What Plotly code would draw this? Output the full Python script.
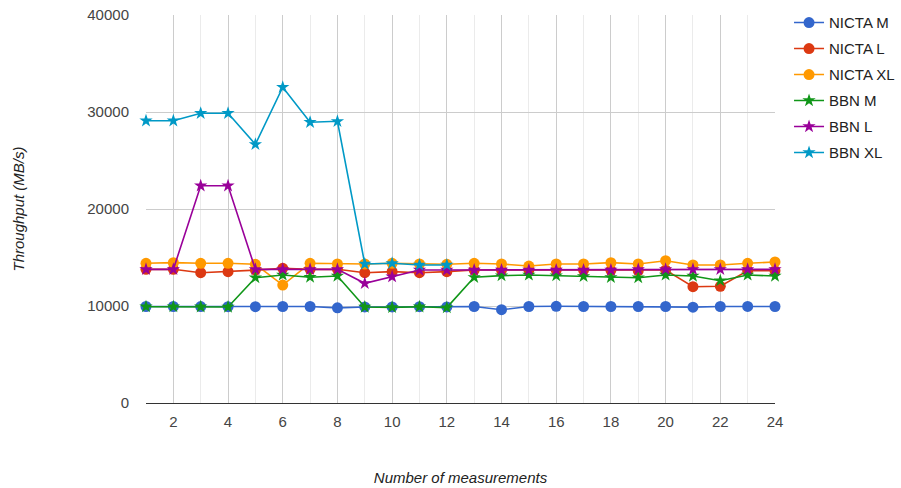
import plotly.graph_objects as go

# Measurement index
measurements = list(range(1, 25))

# Throughput per run (MB/s)
nicta_m = [9950, 9950, 9940, 9930, 9930, 9950, 9950, 9810, 9900, 9900, 9930, 9900,
           9950, 9620, 9950, 9970, 9950, 9950, 9950, 9950, 9880, 9950, 9960, 9950]
nicta_l = [13780, 13780, 13430, 13540, 13700, 13880, 13780, 13780, 13430, 13540, 13430, 13540,
           13710, 13710, 13710, 13710, 13710, 13680, 13640, 13710, 11990, 12030, 13640, 13640]
nicta_xl = [14400, 14470, 14400, 14400, 14300, 12160, 14400, 14330, 14330, 14400, 14330, 14300,
            14400, 14330, 14120, 14330, 14330, 14470, 14330, 14670, 14230, 14230, 14400, 14540]
bbn_m = [9930, 9930, 9920, 9900, 12920, 13200, 12970, 13090, 9900, 9860, 9920, 9830,
         12960, 13130, 13200, 13130, 13060, 12960, 12920, 13200, 13090, 12610, 13200, 13090]
bbn_l = [13780, 13780, 22400, 22400, 13780, 13780, 13780, 13780, 12340, 13020, 13710, 13710,
         13710, 13710, 13710, 13710, 13710, 13710, 13780, 13780, 13780, 13780, 13780, 13780]
bbn_xl = [29100, 29100, 29870, 29870, 26670, 32550, 28940, 29040, 14330, 14400, 14230, 14230,
          None, None, None, None, None, None, None, None, None, None, None, None]

series = [
    ("NICTA M", nicta_m, "#3366cc", "circle", 11),
    ("NICTA L", nicta_l, "#dc3912", "circle", 11),
    ("NICTA XL", nicta_xl, "#ff9900", "circle", 11),
    ("BBN M", bbn_m, "#109618", "star", 10),
    ("BBN L", bbn_l, "#990099", "star", 10),
    ("BBN XL", bbn_xl, "#0099c6", "star", 10),
]

FONT = "Liberation Sans, Arial, sans-serif"

fig = go.Figure()
for name, vals, color, sym, size in series:
    fig.add_trace(go.Scatter(
        x=measurements, y=vals, name=name, mode="lines+markers",
        line=dict(color=color, width=1.6),
        marker=dict(color=color, symbol=sym, size=size, line=dict(width=0)),
        cliponaxis=False, legendgroup=name,
    ))

fig.update_layout(
    width=901, height=488,
    margin=dict(l=146, r=126, t=15, b=85, autoexpand=False),
    paper_bgcolor="white", plot_bgcolor="white",
    font=dict(family=FONT, size=15, color="#444444"),
    showlegend=True,
    legend=dict(
        x=1.0223, xanchor="left", y=1.0225, yanchor="top",
        font=dict(family=FONT, size=15, color="#222222"),
        tracegroupgap=3.5, bgcolor="rgba(0,0,0,0)",
    ),
    xaxis=dict(
        range=[1, 24], tickmode="linear", tick0=2, dtick=2,
        automargin=False,
        showgrid=True, gridcolor="#cccccc", gridwidth=1,
        minor=dict(dtick=1, tick0=1, showgrid=True, gridcolor="#ebebeb", gridwidth=1),
        zeroline=False, showline=False, ticks="",
        ticklabelstandoff=8,
        tickfont=dict(family=FONT, size=15, color="#444444"),
        title=dict(text="<i>Number of measurements</i>", standoff=43,
                   font=dict(family=FONT, size=15, color="#222222")),
    ),
    yaxis=dict(
        range=[0, 40000], tickmode="linear", tick0=0, dtick=10000,
        tickformat="d", automargin=False,
        showgrid=True, gridcolor="#cccccc", gridwidth=1,
        zeroline=True, zerolinecolor="#333333", zerolinewidth=1,
        showline=False, ticks="",
        ticklabelstandoff=16,
        tickfont=dict(family=FONT, size=15, color="#444444"),
        title=dict(text="<i>Throughput (MB/s)</i>", standoff=59,
                   font=dict(family=FONT, size=15, color="#222222")),
    ),
)

fig.write_html("out.html")
